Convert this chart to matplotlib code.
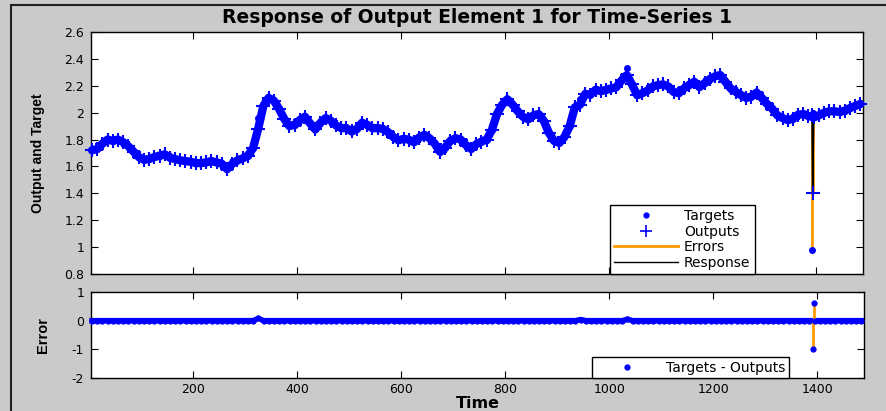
import numpy as np
import matplotlib
matplotlib.use("Agg")
import matplotlib.pyplot as plt
from matplotlib.lines import Line2D
from matplotlib.ticker import FuncFormatter

plt.rcParams['axes.unicode_minus'] = False
plt.rcParams['font.family'] = ['DejaVu Sans']

########################################################################################################################
# Data
########################################################################################################################

# sample times of the series (every 10 steps)
time = list(range(5, 1486, 10))
targets = [1.72, 1.73, 1.77, 1.80, 1.79, 1.80, 1.78, 1.75, 1.71, 1.67,
           1.65, 1.655, 1.67, 1.68, 1.69, 1.665, 1.655, 1.645, 1.64, 1.635,
           1.625, 1.625, 1.63, 1.64, 1.63, 1.62, 1.58, 1.62, 1.645, 1.66,
           1.68, 1.735, 1.96, 2.05, 2.11, 2.09, 2.03, 1.955, 1.90, 1.91,
           1.945, 1.97, 1.92, 1.875, 1.925, 1.96, 1.94, 1.905, 1.885, 1.885,
           1.86, 1.88, 1.925, 1.91, 1.885, 1.885, 1.88, 1.855, 1.82, 1.795,
           1.805, 1.80, 1.78, 1.815, 1.835, 1.81, 1.77, 1.71, 1.74, 1.79,
           1.81, 1.80, 1.76, 1.73, 1.765, 1.785, 1.80, 1.87, 1.99, 2.06,
           2.10, 2.06, 2.01, 1.97, 1.95, 1.98, 1.99, 1.94, 1.85, 1.79,
           1.775, 1.82, 1.90, 2.04, 2.10, 2.14, 2.135, 2.17, 2.16, 2.17,
           2.18, 2.19, 2.24, 2.33, 2.21, 2.13, 2.145, 2.165, 2.195, 2.205,
           2.21, 2.195, 2.155, 2.145, 2.18, 2.205, 2.23, 2.19, 2.22, 2.25,
           2.27, 2.28, 2.23, 2.18, 2.155, 2.13, 2.11, 2.12, 2.15, 2.11,
           2.065, 2.03, 1.98, 1.96, 1.945, 1.955, 1.985, 1.99, 1.975, 1.965,
           1.98, 2.00, 2.01, 2.01, 2.005, 2.015, 2.035, 2.05, 2.065]

# steps where the network output lags behind the target
lag_time = [325, 945, 1035]
lag_outputs = [1.88, 2.06, 2.28]

# the outlier pair
spike_time = [1392, 1393]
spike_targets = [0.98, 2.00]
spike_outputs = [1.98, 1.40]

y_ticks_top = [0.8, 1, 1.2, 1.4, 1.6, 1.8, 2, 2.2, 2.4, 2.6]
y_ticks_err = [-2, -1, 0, 1]
x_ticks = [200, 400, 600, 800, 1000, 1200, 1400]

BLUE = '#0000ff'
ORANGE = '#ff9900'


########################################################################################################################
# Utils
########################################################################################################################

def build_series():
    """
    Merge the regular samples with the lagging and outlier steps.
    :return: times, targets, outputs (all steps) and the outputs at the regular steps
    """
    outputs = dict(zip(time, targets))
    outputs.update(zip(lag_time, lag_outputs))
    regular_out = np.array([outputs[k] for k in time])
    tgt = dict(zip(time, targets))
    tgt.update(zip(spike_time, spike_targets))
    outputs.update(zip(spike_time, spike_outputs))
    t = np.array(sorted(tgt))
    y_t = np.array([tgt[k] for k in t])
    y_o = np.array([outputs[k] for k in t])
    return t, y_t, y_o, regular_out


def style_axes(ax):
    ax.tick_params(direction='in', top=True, right=True, length=5, width=0.8,
                   labelsize=9, pad=5, colors='black')
    ax.tick_params(axis='x', pad=3.5)
    for sp in ax.spines.values():
        sp.set_linewidth(1.0)
    ax.set_xticks(x_ticks)
    ax.set_xlim(3, 1490)


########################################################################################################################
# Plot
########################################################################################################################

def plot_response(file_name='out.png'):
    t, y_t, y_o, regular_out = build_series()
    err = y_t - y_o
    regular_err = np.array(targets) - regular_out

    fig = plt.figure(figsize=(8.86, 4.11), dpi=100, facecolor='#cacaca')
    ax1 = fig.add_axes([91 / 886, 137 / 411, 772 / 886, 242 / 411])
    ax2 = fig.add_axes([91 / 886, 33 / 411, 773 / 886, 86 / 411])

    # window frame
    fig.add_artist(Line2D([10.5 / 886, 10.5 / 886], [0, 1 - 5.5 / 411], color='#202020', lw=1.5,
                          transform=fig.transFigure))
    fig.add_artist(Line2D([10.5 / 886, 1], [1 - 5.5 / 411, 1 - 5.5 / 411], color='#202020', lw=1.5,
                          transform=fig.transFigure))

    # response axes
    ax1.vlines(t, y_t, y_o, color=ORANGE, lw=2, zorder=2)
    ax1.plot(t, y_o, '-', color='black', lw=1.2, zorder=3)
    # dense marker trail of the regular steps
    ax1.plot(time, regular_out, '-', color=BLUE, lw=6, solid_joinstyle='round',
             solid_capstyle='round', zorder=3.5, clip_on=False)
    ax1.plot(t, y_o, ls='none', marker='+', color=BLUE, ms=10, mew=1.5, zorder=4, clip_on=False)
    ax1.plot(t, y_t, ls='none', marker='.', color=BLUE, ms=8, zorder=5, clip_on=False)
    style_axes(ax1)
    ax1.set_ylim(0.8, 2.6)
    ax1.set_yticks(y_ticks_top)
    ax1.yaxis.set_major_formatter(FuncFormatter(lambda v, p: '%g' % v))
    ax1.tick_params(labelbottom=False)
    ax1.set_title('Response of Output Element 1 for Time-Series 1', fontsize=13.5,
                  fontweight='bold', pad=6.5)
    ax1.set_ylabel('Output and Target', fontsize=10, fontweight='bold', family='Liberation Sans')
    ax1.yaxis.set_label_coords(-0.0596, 0.5)

    handles = [Line2D([], [], ls='none', marker='.', color=BLUE, ms=7),
               Line2D([], [], ls='none', marker='+', color=BLUE, ms=8, mew=1.2),
               Line2D([], [], color=ORANGE, lw=2),
               Line2D([], [], color='black', lw=1)]
    leg = ax1.legend(handles, ['Targets', 'Outputs', 'Errors', 'Response'], loc='lower left',
                     bbox_to_anchor=(0.672, 0.0), borderaxespad=0, fontsize=10, handlelength=4.6,
                     handletextpad=0.45, labelspacing=0.12, borderpad=0.3, fancybox=False,
                     framealpha=1, edgecolor='black')
    leg.get_frame().set_linewidth(1.0)
    leg.set_zorder(10)

    # error axes
    ax2.plot(time, regular_err, '-', color=BLUE, lw=4, zorder=2, clip_on=False)
    ax2.vlines(t, 0, err, color=ORANGE, lw=2, zorder=3)
    ax2.plot(t, err, ls='none', marker='.', color=BLUE, ms=7, zorder=4, clip_on=False)
    style_axes(ax2)
    ax2.set_ylim(-2, 1)
    ax2.set_yticks(y_ticks_err)
    ax2.set_xlabel('Time', fontsize=11.5, fontweight='bold', labelpad=0)
    ax2.set_ylabel('Error', fontsize=10.5, fontweight='bold', family='Liberation Sans')
    ax2.yaxis.set_label_coords(-0.053, 0.5)
    leg2 = ax2.legend([Line2D([], [], ls='none', marker='.', color=BLUE, ms=7)], ['Targets - Outputs'],
                      loc='lower left', bbox_to_anchor=(0.648, 0.0), borderaxespad=0, fontsize=10,
                      handlelength=4.5, handletextpad=0.6, borderpad=0.25, fancybox=False,
                      framealpha=1, edgecolor='black')
    leg2.get_frame().set_linewidth(1.0)
    leg2.set_zorder(10)

    fig.savefig(file_name, dpi=100, facecolor=fig.get_facecolor())
    plt.close(fig)


if __name__ == "__main__":
    plot_response('out.png')
